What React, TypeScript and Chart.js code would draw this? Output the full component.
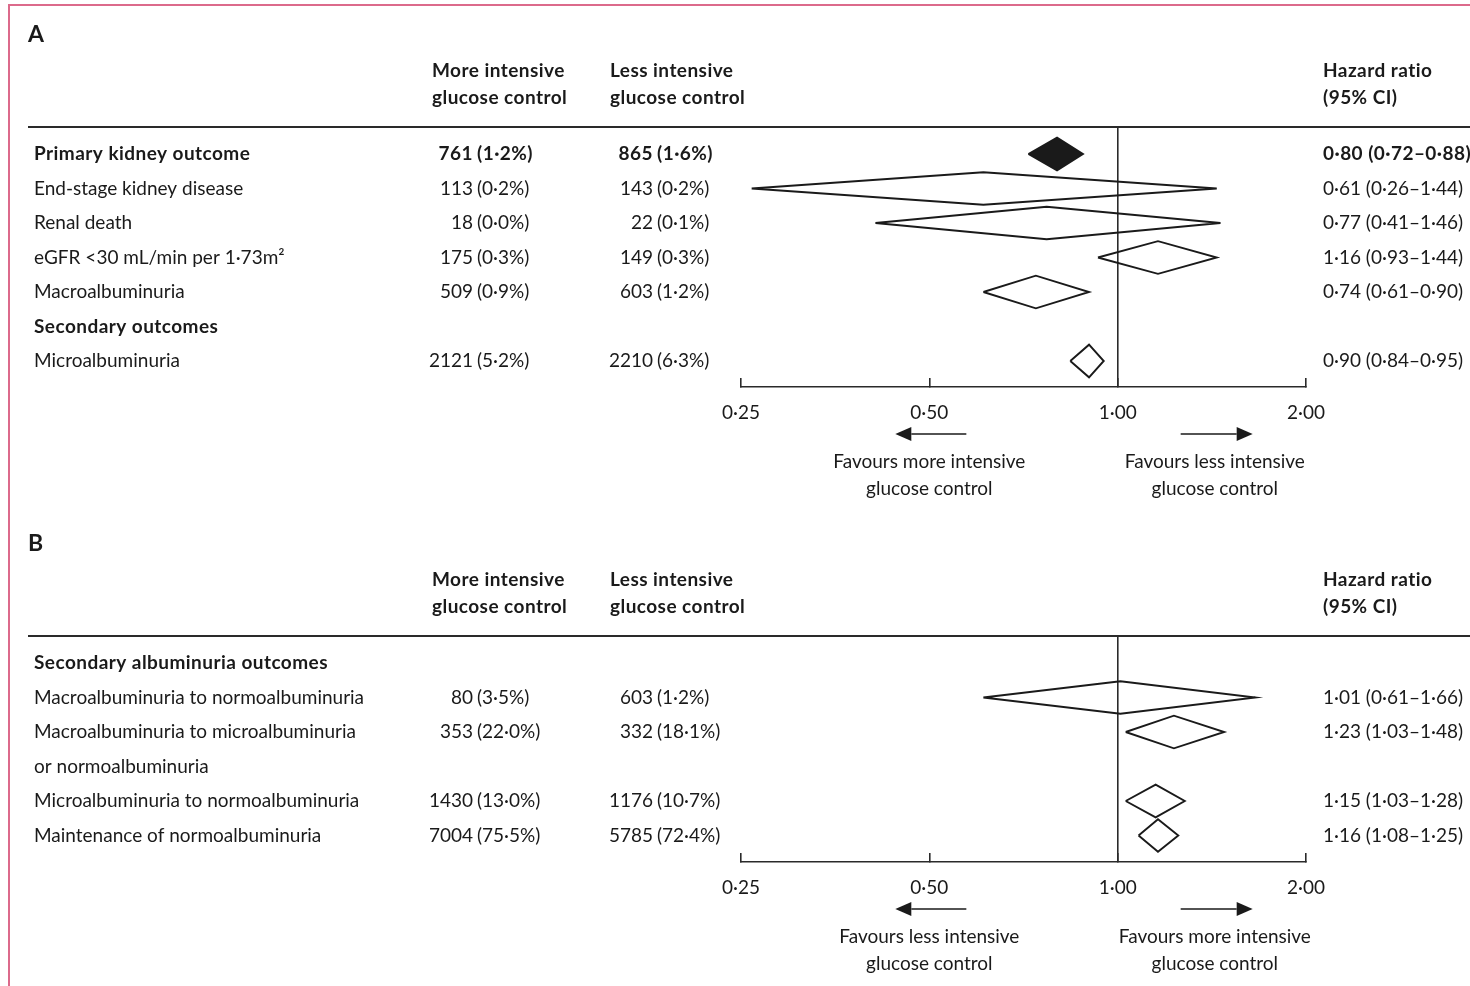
import { useEffect, useRef } from "react";
import { Chart, registerables } from "chart.js";

Chart.register(...registerables);

const FONT = "Lato, 'Noto Sans', 'DejaVu Sans', sans-serif";
const INK = "#1a1a1a";
const RULE = "#2a2a2a";
const FRAME = "#dc6a8b";

// Hazard-ratio axis (log scale)
const TICK_VALUES = [0.25, 0.5, 1, 2];
const COLUMN_HEADERS = [
  ["More intensive", "glucose control"],
  ["Less intensive", "glucose control"],
  ["Hazard ratio", "(95% CI)"],
];

// Panel A: kidney outcomes
const labelsA = [
  "Primary kidney outcome",
  "End-stage kidney disease",
  "Renal death",
  "eGFR <30 mL/min per 1·73m²",
  "Macroalbuminuria",
  "Secondary outcomes",
  "Microalbuminuria",
];
const boldA = [true, false, false, false, false, true, false];
const moreEventsA = [761, 113, 18, 175, 509, null, 2121];
const morePctA = [1.2, 0.2, 0.0, 0.3, 0.9, null, 5.2];
const lessEventsA = [865, 143, 22, 149, 603, null, 2210];
const lessPctA = [1.6, 0.2, 0.1, 0.3, 1.2, null, 6.3];
const hrA = [0.8, 0.61, 0.77, 1.16, 0.74, null, 0.9];
const hrLowA = [0.72, 0.26, 0.41, 0.93, 0.61, null, 0.84];
const hrHighA = [0.88, 1.44, 1.46, 1.44, 0.9, null, 0.95];
const favoursA = [
  ["Favours more intensive", "glucose control"],
  ["Favours less intensive", "glucose control"],
];

// Panel B: albuminuria transitions
const labelsB = [
  "Secondary albuminuria outcomes",
  "Macroalbuminuria to normoalbuminuria",
  "Macroalbuminuria to microalbuminuria\nor normoalbuminuria",
  "Microalbuminuria to normoalbuminuria",
  "Maintenance of normoalbuminuria",
];
const boldB = [true, false, false, false, false];
const moreEventsB = [null, 80, 353, 1430, 7004];
const morePctB = [null, 3.5, 22.0, 13.0, 75.5];
const lessEventsB = [null, 603, 332, 1176, 5785];
const lessPctB = [null, 1.2, 18.1, 10.7, 72.4];
const hrB = [null, 1.01, 1.23, 1.15, 1.16];
const hrLowB = [null, 0.61, 1.03, 1.03, 1.08];
const hrHighB = [null, 1.66, 1.48, 1.28, 1.25];
const favoursB = [
  ["Favours less intensive", "glucose control"],
  ["Favours more intensive", "glucose control"],
];

// Layout
const PAGE_W = 1470;
const ROW_H = 34.5;
const RULE_Y = 127;
const FIRST_ROW_GAP = 27;
const PLOT_LEFT = 741;
const PLOT_RIGHT = 1306;
const DIAMOND_HALF = 16.3;

const dot = (s: string) => s.replace(".", "·");
const fmtPct = (v: number) => `(${dot(v.toFixed(1))}%)`;
const fmtHr = (v: number) => dot(v.toFixed(2));

type Panel = {
  letter: string;
  top: number;
  height: number;
  axisY: number;
  labels: string[];
  bold: boolean[];
  moreEvents: (number | null)[];
  morePct: (number | null)[];
  lessEvents: (number | null)[];
  lessPct: (number | null)[];
  hr: (number | null)[];
  low: (number | null)[];
  high: (number | null)[];
  favours: string[][];
  filled: boolean[];
};

const panels: Panel[] = [
  {
    letter: "A",
    top: 0,
    height: 509,
    axisY: 387,
    labels: labelsA,
    bold: boldA,
    moreEvents: moreEventsA,
    morePct: morePctA,
    lessEvents: lessEventsA,
    lessPct: lessPctA,
    hr: hrA,
    low: hrLowA,
    high: hrHighA,
    favours: favoursA,
    filled: [true, false, false, false, false, false, false],
  },
  {
    letter: "B",
    top: 509,
    height: 477,
    axisY: 353,
    labels: labelsB,
    bold: boldB,
    moreEvents: moreEventsB,
    morePct: morePctB,
    lessEvents: lessEventsB,
    lessPct: lessPctB,
    hr: hrB,
    low: hrLowB,
    high: hrHighB,
    favours: favoursB,
    filled: [false, false, false, false, false],
  },
];

// row slot for each label (multi-line labels take extra slots)
function slotsFor(labels: string[]) {
  const out: number[] = [];
  let s = 0;
  labels.forEach((l) => {
    out.push(s);
    s += l.split("\n").length;
  });
  return out;
}

function setFont(ctx: CanvasRenderingContext2D, size: number, bold = false) {
  ctx.font = `${bold ? "bold " : ""}${size}px ${FONT}`;
  (ctx as any).letterSpacing = bold ? "0.45px" : "0px";
}

function drawArrow(ctx: CanvasRenderingContext2D, x0: number, x1: number, y: number) {
  const dir = Math.sign(x1 - x0);
  const head = 16;
  ctx.beginPath();
  ctx.moveTo(x0, y);
  ctx.lineTo(x1 - dir * head, y);
  ctx.lineWidth = 1.7;
  ctx.strokeStyle = INK;
  ctx.stroke();
  ctx.beginPath();
  ctx.moveTo(x1, y);
  ctx.lineTo(x1 - dir * head, y - 7);
  ctx.lineTo(x1 - dir * head, y + 7);
  ctx.closePath();
  ctx.fillStyle = INK;
  ctx.fill();
}

function makeTablePlugin(p: Panel) {
  const slots = slotsFor(p.labels);
  return {
    id: "forestTable" + p.letter,
    afterDraw(chart: any) {
      const ctx: CanvasRenderingContext2D = chart.ctx;
      const xs = chart.scales.x;
      const ys = chart.scales.y;
      const area = chart.chartArea;
      ctx.save();
      ctx.fillStyle = INK;
      ctx.textBaseline = "middle";

      // panel letter
      setFont(ctx, 23, true);
      ctx.textAlign = "left";
      ctx.fillText(p.letter, 28, 35);

      // column headers
      setFont(ctx, 19, true);
      const hx = [432, 610, 1323];
      COLUMN_HEADERS.forEach((lines, i) => {
        lines.forEach((t, j) => ctx.fillText(t, hx[i], 71 + j * 27));
      });

      // header rule
      ctx.beginPath();
      ctx.moveTo(28, area.top);
      ctx.lineTo(PAGE_W, area.top);
      ctx.lineWidth = 2;
      ctx.strokeStyle = RULE;
      ctx.stroke();

      // table rows
      p.labels.forEach((label, i) => {
        const b = p.bold[i];
        const y = ys.getPixelForValue(slots[i]);
        setFont(ctx, 19, b);
        ctx.textAlign = "left";
        label.split("\n").forEach((t, j) => {
          ctx.fillText(t, 34, ys.getPixelForValue(slots[i] + j));
        });
        const me = p.moreEvents[i];
        const mp = p.morePct[i];
        if (me != null && mp != null) {
          ctx.textAlign = "right";
          ctx.fillText(String(me), 473, y);
          ctx.textAlign = "left";
          ctx.fillText(fmtPct(mp), 477, y);
        }
        const le = p.lessEvents[i];
        const lp = p.lessPct[i];
        if (le != null && lp != null) {
          ctx.textAlign = "right";
          ctx.fillText(String(le), 653, y);
          ctx.textAlign = "left";
          ctx.fillText(fmtPct(lp), 657, y);
        }
        const hr = p.hr[i];
        const lo = p.low[i];
        const hi = p.high[i];
        if (hr != null && lo != null && hi != null) {
          ctx.textAlign = "left";
          ctx.fillText(`${fmtHr(hr)} (${fmtHr(lo)}–${fmtHr(hi)})`, 1323, y);
        }
      });

      // direction arrows and captions
      const half = xs.getPixelForValue(0.5);
      const one = xs.getPixelForValue(1);
      const two = xs.getPixelForValue(2);
      const ay = area.bottom + 47;
      drawArrow(ctx, half + 37, half - 34, ay);
      drawArrow(ctx, one + 63, one + 135, ay);
      setFont(ctx, 19);
      ctx.textAlign = "center";
      const cx = [half, (one + two) / 2 + 3];
      p.favours.forEach((lines, i) => {
        lines.forEach((t, j) => ctx.fillText(t, cx[i], area.bottom + 75 + j * 27));
      });
      ctx.restore();
    },
  };
}

function buildChart(canvas: HTMLCanvasElement, p: Panel) {
  const slots = slotsFor(p.labels);
  const halfSlot = DIAMOND_HALF / ROW_H;
  const datasets: any[] = [];
  p.hr.forEach((hr, i) => {
    const lo = p.low[i];
    const hi = p.high[i];
    if (hr == null || lo == null || hi == null) return;
    const s = slots[i];
    datasets.push({
      data: [
        { x: lo, y: s },
        { x: hr, y: s - halfSlot },
        { x: hi, y: s },
        { x: hr, y: s + halfSlot },
        { x: lo, y: s },
      ],
      showLine: true,
      borderColor: INK,
      borderWidth: 1.9,
      borderJoinStyle: "miter",
      backgroundColor: INK,
      fill: p.filled[i] ? "shape" : false,
      pointRadius: 0,
      tension: 0,
    });
  });

  const yMin = -FIRST_ROW_GAP / ROW_H;
  const yMax = yMin + (p.axisY - RULE_Y) / ROW_H;

  return new Chart(canvas, {
    type: "scatter",
    data: { datasets },
    options: {
      animation: false,
      responsive: false,
      events: [],
      layout: {
        padding: { left: PLOT_LEFT, right: PAGE_W - PLOT_RIGHT, top: RULE_Y, bottom: 0 },
      },
      plugins: {
        legend: { display: false },
        tooltip: { enabled: false },
        title: { display: false },
      },
      scales: {
        x: {
          type: "logarithmic",
          position: "bottom",
          min: 0.25,
          max: 2,
          afterBuildTicks: (scale: any) => {
            scale.ticks = TICK_VALUES.map((v) => ({ value: v }));
          },
          afterFit: (scale: any) => {
            scale.height = p.height - p.axisY;
          },
          ticks: {
            callback: (v: any) => fmtHr(Number(v)),
            font: { family: FONT, size: 19 },
            color: INK,
            padding: 23,
            maxRotation: 0,
            autoSkip: false,
          },
          grid: {
            drawOnChartArea: true,
            color: (c: any) => (c.tick && c.tick.value === 1 ? RULE : "rgba(0,0,0,0)"),
            lineWidth: 1.6,
            tickColor: RULE,
            tickWidth: 1.6,
            tickLength: -9,
          },
          border: { display: true, color: RULE, width: 1.6 },
        },
        y: {
          type: "linear",
          display: false,
          reverse: true,
          min: yMin,
          max: yMax,
        },
      },
    },
    plugins: [makeTablePlugin(p)],
  } as any);
}

function PanelCanvas({ panel }: { panel: Panel }) {
  const ref = useRef<HTMLCanvasElement | null>(null);
  useEffect(() => {
    if (!ref.current) return;
    const chart = buildChart(ref.current, panel);
    return () => chart.destroy();
  }, [panel]);
  return (
    <canvas
      ref={ref}
      width={PAGE_W}
      height={panel.height}
      style={{ position: "absolute", left: 0, top: panel.top, width: PAGE_W, height: panel.height }}
    />
  );
}

export default function App() {
  return (
    <div
      style={{
        position: "absolute",
        left: 0,
        top: 0,
        width: PAGE_W,
        height: 986,
        overflow: "hidden",
        background: "#ffffff",
      }}
    >
      <div
        style={{
          position: "absolute",
          left: 8,
          top: 4,
          width: PAGE_W,
          height: 1000,
          borderTop: `2px solid ${FRAME}`,
          borderLeft: `2px solid ${FRAME}`,
        }}
      />
      {panels.map((p) => (
        <PanelCanvas key={p.letter} panel={p} />
      ))}
    </div>
  );
}
